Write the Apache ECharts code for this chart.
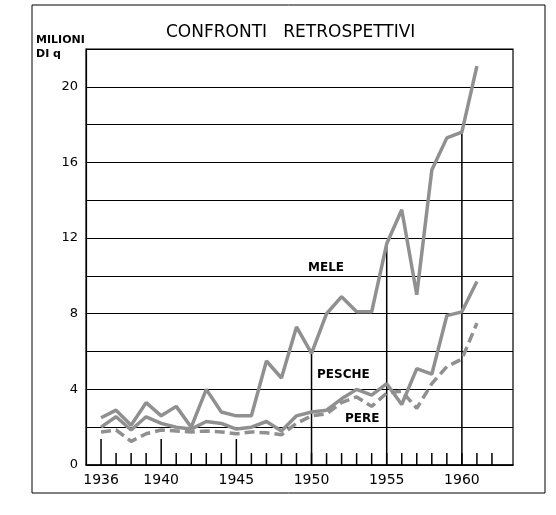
<!DOCTYPE html>
<html><head><meta charset="utf-8">
<script src="https://cdn.jsdelivr.net/npm/echarts@6/dist/echarts.min.js"></script>
<style>html,body{margin:0;padding:0;background:#fff}#c{width:556px;height:515px}</style>
</head><body><div id="c"></div>
<script>
const years = [1936,1937,1938,1939,1940,1941,1942,1943,1944,1945,1946,1947,1948,1949,1950,1951,1952,1953,1954,1955,1956,1957,1958,1959,1960,1961];
const mele   = [2.5,2.9,2.1,3.3,2.6,3.1,2.0,4.0,2.8,2.6,2.6,5.5,4.6,7.3,5.9,8.0,8.9,8.1,8.1,11.7,13.5,9.0,15.6,17.3,17.6,21.1];
const pesche = [2.0,2.55,1.85,2.55,2.2,2.0,1.9,2.3,2.2,1.9,2.0,2.3,1.8,2.6,2.8,2.9,3.5,4.0,3.7,4.3,3.2,5.1,4.8,7.9,8.1,9.7];
const pere   = [1.75,1.85,1.25,1.65,1.85,1.8,1.75,1.8,1.75,1.65,1.75,1.7,1.6,2.2,2.6,2.7,3.3,3.6,3.1,3.8,3.9,3.0,4.3,5.2,5.6,7.5];
const labelYears = [1936,1940,1945,1950,1955,1960];
const tickYears = [1936,1937,1938,1939,1940,1941,1942,1943,1944,1945,1946,1947,1948,1949,1950,1951,1952,1953,1954,1955,1956,1957,1958,1959,1960,1961,1962];
const tallTickYears = [1936,1940,1945];
const dropYears = [1950,1955,1960];
const yLabels = [0,4,8,12,16,20];

const lineColor = '#909090';
const font = 'DejaVu Sans';
const pair = a => years.map((y,i)=>[y,a[i]]);

const chart = echarts.init(document.getElementById('c'));
chart.setOption({
  animation:false,
  backgroundColor:'#fff',
  grid:{left:86,right:43,top:49,bottom:50,show:true,borderColor:'#000',borderWidth:1.2},
  xAxis:{type:'value',min:1935,max:1963.4,interval:1,
    axisLine:{show:true,lineStyle:{color:'#000',width:1.5}},
    axisTick:{show:false},splitLine:{show:false},
    axisLabel:{color:'#000',fontFamily:font,fontSize:14,margin:8,
      formatter:v=>labelYears.includes(v)?String(v):''}},
  yAxis:{type:'value',min:0,max:22,interval:2,
    axisLine:{show:true,lineStyle:{color:'#000',width:1.2}},
    axisTick:{show:false},
    splitLine:{show:true,lineStyle:{color:'#000',width:1.2}},
    axisLabel:{color:'#000',fontFamily:font,fontSize:13,margin:8,
      formatter:v=>yLabels.includes(v)?String(v):''}},
  graphic:[
    {type:'rect',shape:{x:32,y:5,width:513,height:488},style:{fill:'none',stroke:'#000',lineWidth:1}},
    {type:'text',left:166,top:24,style:{text:'CONFRONTI   RETROSPETTIVI',font:'17px DejaVu Sans',fill:'#000'}},
    {type:'text',left:36,top:35,style:{text:'MILIONI',font:'bold 11px DejaVu Sans',fill:'#000'}},
    {type:'text',left:36,top:49,style:{text:'DI q',font:'bold 11px DejaVu Sans',fill:'#000'}},
    {type:'text',left:308,top:262,style:{text:'MELE',font:'bold 12px DejaVu Sans',fill:'#000'}},
    {type:'text',left:317,top:369,style:{text:'PESCHE',font:'bold 12px DejaVu Sans',fill:'#000'}},
    {type:'text',left:345,top:413,style:{text:'PERE',font:'bold 12px DejaVu Sans',fill:'#000'}}
  ],
  series:[
    {type:'custom',z:1,data:tickYears.map(y=>[y,tallTickYears.includes(y)?1:0]),
      renderItem:(p,api)=>{const c=api.coord([api.value(0),0]);const L=api.value(1)?26:12;
        return {type:'line',shape:{x1:c[0],y1:c[1],x2:c[0],y2:c[1]-L},style:{stroke:'#000',lineWidth:1.5}};}},
    {type:'custom',z:1,data:dropYears.map(y=>[y,mele[years.indexOf(y)]]),
      renderItem:(p,api)=>{const a=api.coord([api.value(0),0]);const b=api.coord([api.value(0),api.value(1)]);
        return {type:'line',shape:{x1:a[0],y1:a[1],x2:b[0],y2:b[1]},style:{stroke:'#000',lineWidth:1.5}};}},
    {name:'MELE',type:'line',data:pair(mele),symbol:'none',z:3,lineStyle:{color:lineColor,width:3.5}},
    {name:'PESCHE',type:'line',data:pair(pesche),symbol:'none',z:3,lineStyle:{color:lineColor,width:3.5}},
    {name:'PERE',type:'line',data:pair(pere),symbol:'none',z:3,lineStyle:{color:lineColor,width:3.5,type:[10,5]}}
  ]
});
</script></body></html>
